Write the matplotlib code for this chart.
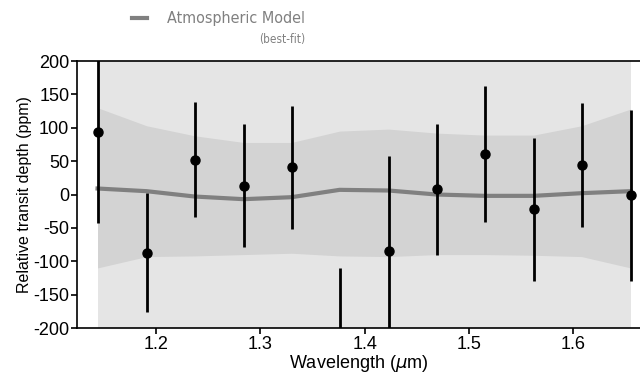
import numpy as np
import matplotlib as mpl
mpl.use('Agg')
import matplotlib.pyplot as plt

plt.rcParams['font.family'] = ['Liberation Sans', 'DejaVu Sans']
plt.rcParams['axes.unicode_minus'] = False

# transit depth data
wave = [1.144, 1.191, 1.237, 1.284, 1.330, 1.376, 1.423, 1.469, 1.515, 1.562, 1.608, 1.655]
depth = [94, -87, 52, 13, 41, -260, -84, 8, 61, -22, 44, -1]
err = [137, 89, 86, 92, 92, 150, 142, 98, 102, 107, 93, 128]

# best-fit model and its bands
model = [9, 5, -3, -7, -4, 7, 6, 0, -2, -2, 2, 5]
band1_hi = [130, 103, 88, 78, 78, 95, 98, 92, 89, 89, 103, 128]
band1_lo = [-110, -93, -92, -90, -88, -92, -93, -90, -90, -91, -93, -110]
band2_hi = [400] * 12
band2_lo = [-400] * 12

fig = plt.figure(figsize=(6.4, 3.75), dpi=100)
ax = fig.add_axes([0.1203, 0.1253, 0.8797, 0.712])

ax.fill_between(wave, band2_lo, band2_hi, color='#e5e5e5', lw=0, zorder=1)
ax.fill_between(wave, band1_lo, band1_hi, color='#d3d3d3', lw=0, zorder=2)
ax.plot(wave, model, color='#808080', lw=3, zorder=3)
ax.errorbar(wave, depth, yerr=err, fmt='o', color='black', ms=6.5,
            elinewidth=2, capsize=0, zorder=4, clip_on=True)

ax.set_xlim(1.1243, 1.664)
ax.set_ylim(-200, 200)
ax.set_xticks([1.2, 1.3, 1.4, 1.5, 1.6])
ax.set_yticks(np.arange(-200, 201, 50))
ax.spines['right'].set_visible(False)
for s in ['left', 'top', 'bottom']:
    ax.spines[s].set_linewidth(1.2)
ax.tick_params(direction='out', length=4, width=1.2, labelsize=13, pad=1.5)
ax.set_xlabel("Wavelength ($\\mu$m)", fontsize=13, labelpad=0)
ax.set_ylabel("Relative transit depth (ppm)", fontsize=11.5, labelpad=1)

# legend drawn above the axes
leg_font = ['Liberation Sans Narrow', 'DejaVu Sans']
fig.add_artist(plt.Line2D([132 / 640, 147 / 640], [1 - 18 / 375, 1 - 18 / 375],
                          color='#808080', lw=3))
fig.text(167 / 640, 1 - 19 / 375, "Atmospheric Model", color='#808080',
         fontsize=11.5, va='center', ha='left', family=leg_font, fontstretch='condensed')
fig.text(305 / 640, 1 - 40 / 375, "(best-fit)", color='#808080',
         fontsize=8.5, va='center', ha='right', family=leg_font, fontstretch='condensed')

fig.savefig("out.png", dpi=100)
